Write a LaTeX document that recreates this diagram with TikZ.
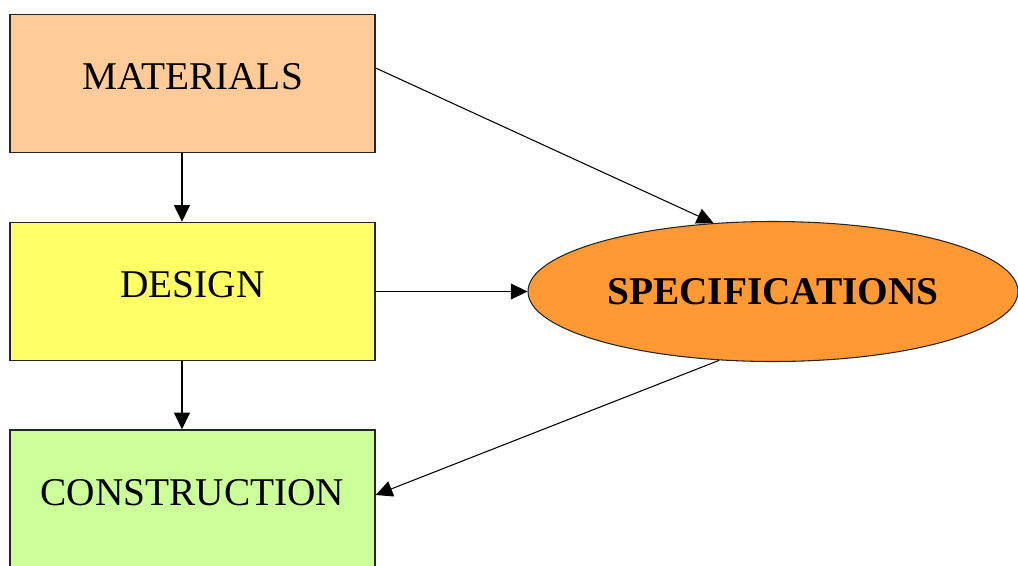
\documentclass[tikz,border=0pt]{standalone}
\usepackage{fontspec}
\setmainfont{Liberation Serif}
\usetikzlibrary{shapes.geometric,arrows.meta}
\definecolor{matfill}{HTML}{FFCC99}
\definecolor{desfill}{HTML}{FFFF66}
\definecolor{confill}{HTML}{CCFF99}
\definecolor{specfill}{HTML}{FF9933}
\tikzset{
  stagebox/.style={draw=black!85, line width=1.1pt, rectangle, minimum width=273.75pt, minimum height=103.5pt,
    inner sep=0pt, font=\fontsize{29.5}{33}\selectfont, text height=19pt, text depth=10pt},
  specnode/.style={draw=black!85, line width=0.8pt, ellipse, fill=specfill, minimum width=367.5pt, minimum height=105pt,
    inner sep=0pt, font=\fontsize{29.5}{33}\selectfont\bfseries},
  flow/.style={line width=0.8pt, -{Triangle[length=12.5pt,width=12pt]}}
}
\begin{document}
\begin{tikzpicture}[x=0.75pt,y=-0.75pt]
\useasboundingbox (0,0) rectangle (1018,565);
\begin{scope}
\clip (0,0) rectangle (1018,565);
\node[stagebox, fill=matfill] (mat) at (192.5,83.5) {MATERIALS};
\node[stagebox, fill=desfill] (des) at (192.5,291.5) {DESIGN};
\node[stagebox, fill=confill] (con) at (192.5,499) {CONSTRUCTION};
\node[specnode] (spec) at (773,291.5) {SPECIFICATIONS};
\end{scope}
\draw[flow] ([xshift=-7.9pt]mat.south) -- ([xshift=-7.9pt]des.north);
\draw[flow] ([xshift=-7.9pt]des.south) -- ([xshift=-7.9pt]con.north);
\draw[flow] ([yshift=11.6pt]mat.east) -- (spec.131);
\draw[flow] (des.east) -- (spec.west);
\draw[flow] (spec.232) -- ([yshift=3pt]con.east);
\end{tikzpicture}
\end{document}
